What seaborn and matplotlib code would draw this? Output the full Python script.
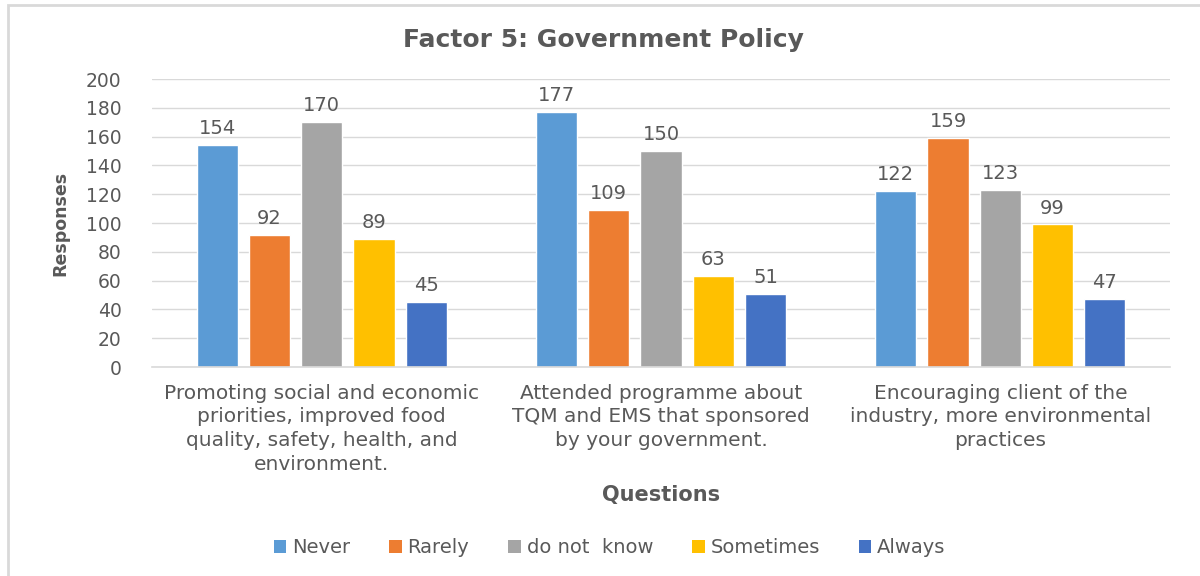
import matplotlib
matplotlib.use("Agg")
import matplotlib.pyplot as plt
import seaborn as sns
import pandas as pd
from matplotlib.patches import Rectangle, Patch

questions = [
    "Promoting social and economic\npriorities, improved food\nquality, safety, health, and\nenvironment.",
    "Attended programme about\nTQM and EMS that sponsored\nby your government.",
    "Encouraging client of the\nindustry, more environmental\npractices",
]
responses = ["Never", "Rarely", "do not  know", "Sometimes", "Always"]
never = [154, 177, 122]
rarely = [92, 109, 159]
dont_know = [170, 150, 123]
sometimes = [89, 63, 99]
always = [45, 51, 47]
colors = ["#5B9BD5", "#ED7D31", "#A5A5A5", "#FFC000", "#4472C4"]

series = [never, rarely, dont_know, sometimes, always]
rows = []
for r, vals in zip(responses, series):
    for q, v in zip(questions, vals):
        rows.append({"Question": q, "Response": r, "Count": v})
df = pd.DataFrame(rows)

sns.set_theme(style="white")
plt.rcParams["font.family"] = ["DejaVu Sans"]
text_color = "#595959"

fig = plt.figure(figsize=(12, 5.76), dpi=100)
ax = fig.add_axes([0.1267, 0.3628, 0.975 - 0.1267, 0.8628 - 0.3628])

sns.barplot(data=df, x="Question", y="Count", hue="Response",
            order=questions, hue_order=responses, palette=colors,
            width=0.77, gap=0.21, ax=ax, legend=False, saturation=1,
            errorbar=None)

for cont in ax.containers:
    ax.bar_label(cont, padding=5, fontsize=14, color=text_color)

ax.set_ylim(0, 200)
ax.set_xlim(-0.5, 2.5)
ax.set_yticks(range(0, 201, 20))
ax.yaxis.grid(True, color="#D9D9D9", linewidth=1)
ax.set_axisbelow(True)
for s in ["top", "right", "left"]:
    ax.spines[s].set_visible(False)
ax.spines["bottom"].set_color("#D9D9D9")
ax.spines["bottom"].set_linewidth(1.2)
ax.tick_params(axis="y", length=0, colors=text_color, labelsize=13.5, pad=22)
ax.tick_params(axis="x", length=0, colors=text_color, labelsize=14.5, pad=12)
for lbl in ax.get_xticklabels():
    lbl.set_linespacing(1.32)

ax.set_xlabel("Questions", fontsize=15, fontweight="bold", color=text_color, labelpad=8)
ax.set_ylabel("Responses", fontsize=12.5, fontweight="bold", color=text_color, labelpad=12)

fig.text(0.503, 0.93, "Factor 5: Government Policy", ha="center", va="center",
         fontsize=18, fontweight="bold", color=text_color)

handles = [Patch(facecolor=c, edgecolor="none") for c in colors]
fig.legend(handles, responses, loc="center", bbox_to_anchor=(0.508, 0.049), ncol=5,
           frameon=False, fontsize=14, labelcolor=text_color, handlelength=0.65,
           handleheight=0.65, handletextpad=0.3, columnspacing=2.0)

fig.patches.append(Rectangle((8 / 1200, -0.1), 1.2, 1 - 5 / 576 + 0.1, transform=fig.transFigure,
                             fill=False, edgecolor="#D9D9D9", linewidth=2, zorder=-1))

fig.savefig("out.png", dpi=100)
